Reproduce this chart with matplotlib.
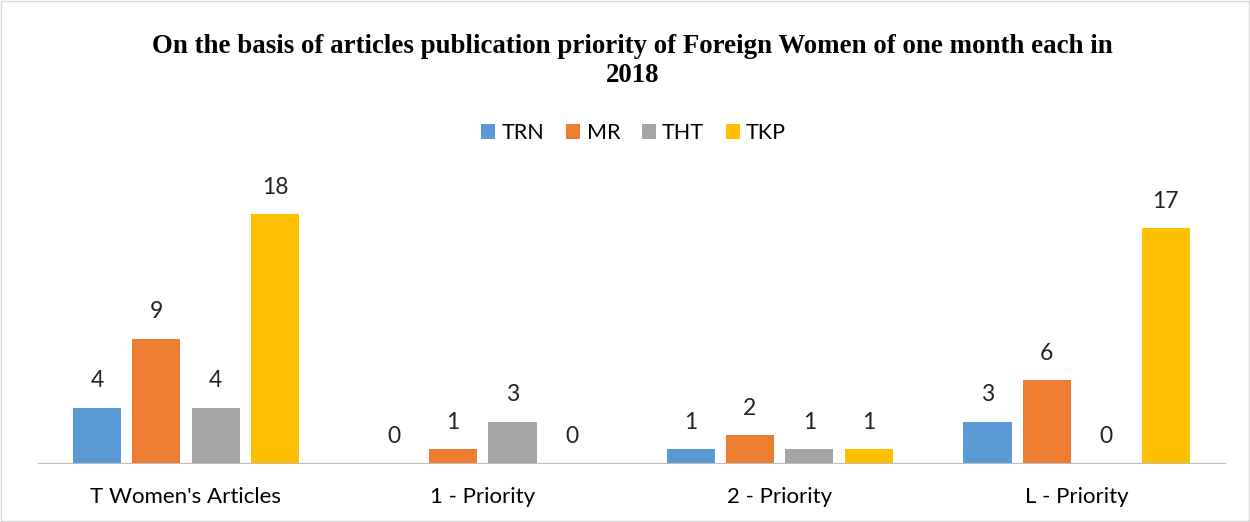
import numpy as np
import matplotlib.pyplot as plt
from matplotlib.patches import Rectangle

categories = ["T Women's Articles", "1 - Priority", "2 - Priority", "L - Priority"]
series = ["TRN", "MR", "THT", "TKP"]
trn = [4, 0, 1, 3]
mr = [9, 1, 2, 6]
tht = [4, 3, 1, 0]
tkp = [18, 0, 1, 17]
colors = ["#5B9BD5", "#ED7D31", "#A5A5A5", "#FFC000"]

fig = plt.figure(figsize=(12.5, 5.22), dpi=100)
ax = fig.add_axes([0.030, 0.113, 0.950, 0.529])

x = np.arange(len(categories))
width = 0.162
step = 0.2
for i, (name, vals, c) in enumerate(zip(series, [trn, mr, tht, tkp], colors)):
    pos = x + (i - 1.5) * step
    ax.bar(pos, vals, width, color=c, label=name)
    for p, v in zip(pos, vals):
        ax.text(p, v + 1.95, str(v), ha="center", va="center",
                fontsize=16.5, family="Lato", color="#222222")

ax.set_xlim(-0.5, 3.5)
ax.set_ylim(0, 20)
ax.set_yticks([])
ax.set_xticks(x)
ax.set_xticklabels(categories, fontsize=16, family="Lato")
ax.tick_params(axis="x", length=0, pad=17)
for s in ["top", "right", "left"]:
    ax.spines[s].set_visible(False)
ax.spines["bottom"].set_color("#BFBFBF")

fig.text(0.506, 0.883, "On the basis of articles publication priority of Foreign Women of one month each in\n2018",
         ha="center", va="center", fontsize=19.4, fontweight="bold",
         family="Liberation Serif", linespacing=1.22)

fig.legend(loc="center", bbox_to_anchor=(0.507, 0.745), ncol=4, frameon=False,
           prop={"family": "Lato", "size": 15.5}, handlelength=0.65, handleheight=0.65,
           handletextpad=0.3, columnspacing=1.0)

fig.patches.append(Rectangle((0.001, 0.001), 0.998, 0.997, transform=fig.transFigure,
                             fill=False, edgecolor="#D9D9D9", linewidth=1))

fig.savefig("out.png", dpi=100)
